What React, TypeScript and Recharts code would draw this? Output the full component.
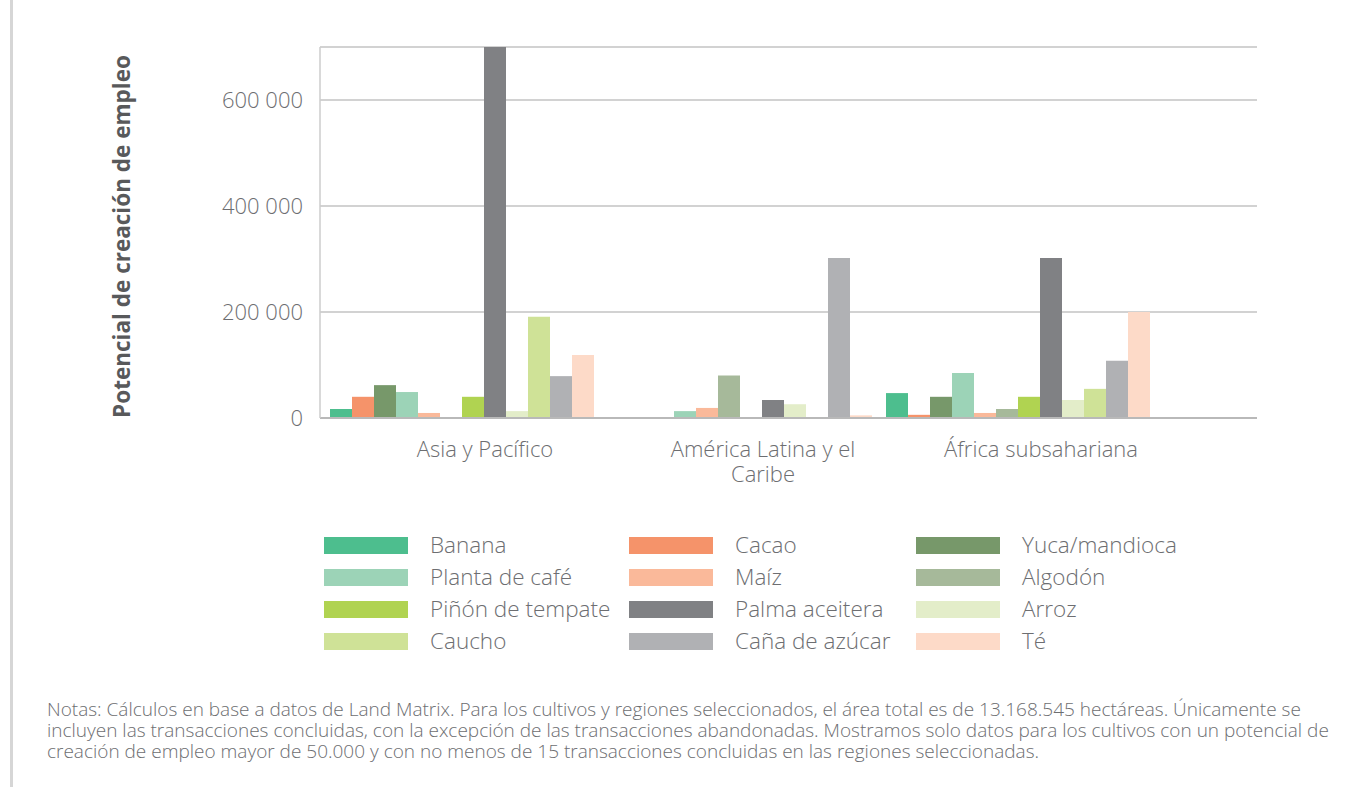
import React from 'react';
import { BarChart, Bar, XAxis, YAxis, CartesianGrid, Legend } from 'recharts';

// regions (x categories)
const regions = ['Asia y Pacífico', 'América Latina y el Caribe', 'África subsahariana'];

// crops, in legend order
const crops = [
  'Banana',
  'Cacao',
  'Yuca/mandioca',
  'Planta de café',
  'Maíz',
  'Algodón',
  'Piñón de tempate',
  'Palma aceitera',
  'Arroz',
  'Caucho',
  'Caña de azúcar',
  'Té',
];

const cropColors = [
  '#4dbe8e',
  '#f5936a',
  '#77986a',
  '#9cd3b7',
  '#fab99a',
  '#a6b99a',
  '#b0d351',
  '#808184',
  '#e3edc9',
  '#cfe297',
  '#b0b1b4',
  '#fddac8',
];

// values per crop: Asia, América Latina, África
const banana = [17000, 0, 47000];
const cacao = [40000, 0, 6000];
const yuca = [62000, 0, 40000];
const cafe = [49000, 13000, 85000];
const maiz = [9500, 19000, 9500];
const algodon = [0, 80000, 17000];
const pinon = [40000, 0, 40000];
const palma = [700000, 34000, 302000];
const arroz = [13000, 26000, 34000];
const caucho = [191000, 0, 55000];
const cana = [79000, 302000, 108000];
const te = [119000, 5000, 200000];

const seriesValues = [banana, cacao, yuca, cafe, maiz, algodon, pinon, palma, arroz, caucho, cana, te];

const yTicks = [0, 200000, 400000, 600000];

const noteLines = [
  'Notas: Cálculos en base a datos de Land Matrix. Para los cultivos y regiones seleccionados, el área total es de 13.168.545 hectáreas. Únicamente se',
  'incluyen las transacciones concluidas, con la excepción de las transacciones abandonadas. Mostramos solo datos para los cultivos con un potencial de',
  'creación de empleo mayor de 50.000 y con no menos de 15 transacciones concluidas en las regiones seleccionadas.',
];

const data = regions.map((region, r) => {
  const row: Record<string, any> = { region };
  crops.forEach((crop, c) => {
    row[crop] = seriesValues[c][r];
  });
  return row;
});

const FONT = "'Open Sans', 'Noto Sans', sans-serif";
const TEXT_GRAY = '#6d6e71';
const TICK_FONT_SIZE = 22;

const formatThousands = (v: number) => String(v).replace(/\B(?=(\d{3})+(?!\d))/g, ' ');

// greedy word wrap measured with a canvas
let measureCtx: CanvasRenderingContext2D | null = null;
function wrapWords(label: string, maxWidth: number): string[] {
  if (!measureCtx) {
    measureCtx = document.createElement('canvas').getContext('2d');
  }
  const ctx = measureCtx!;
  ctx.font = `300 ${TICK_FONT_SIZE}px ${FONT}`;
  const lines: string[] = [];
  let current = '';
  label.split(' ').forEach((word) => {
    const test = current ? `${current} ${word}` : word;
    if (current && ctx.measureText(test).width > maxWidth) {
      lines.push(current);
      current = word;
    } else {
      current = test;
    }
  });
  if (current) lines.push(current);
  return lines;
}

const RegionTick = (props: any) => {
  const { x, y, payload } = props;
  const lines = wrapWords(String(payload.value), 205);
  const cx = x + 22;
  return (
    <text
      x={cx}
      y={y}
      textAnchor="middle"
      fill={TEXT_GRAY}
      style={{ fontFamily: FONT, fontSize: TICK_FONT_SIZE, fontWeight: 300 }}
    >
      {lines.map((line, i) => (
        <tspan key={i} x={cx} dy={i === 0 ? '0.71em' : 25}>
          {line}
        </tspan>
      ))}
    </text>
  );
};

const YTitle = (props: any) => {
  const vb = props.viewBox || { x: 100, y: 47, height: 371 };
  const cx = vb.x + 21;
  const cy = vb.y + vb.height / 2 + 4;
  return (
    <text
      x={cx}
      y={cy}
      transform={`rotate(-90 ${cx} ${cy})`}
      textAnchor="middle"
      dominantBaseline="central"
      fill="#58595b"
      style={{ fontFamily: FONT, fontSize: 22.5, fontWeight: 700 }}
    >
      Potencial de creación de empleo
    </text>
  );
};

const LegendGrid = (props: any) => {
  const payload = [...(props.payload || [])].sort(
    (a: any, b: any) => crops.indexOf(a.value) - crops.indexOf(b.value),
  );
  return (
    <div
      style={{
        display: 'grid',
        gridTemplateColumns: '305px 287px auto',
        fontFamily: FONT,
        fontSize: 22.5,
        fontWeight: 300,
        color: TEXT_GRAY,
      }}
    >
      {payload.map((entry: any) => (
        <div key={entry.value} style={{ display: 'flex', alignItems: 'center', height: 32 }}>
          <span style={{ display: 'inline-block', width: 84, height: 17, background: entry.color, marginRight: 22 }} />
          <span style={{ whiteSpace: 'nowrap', lineHeight: '32px' }}>{entry.value}</span>
        </div>
      ))}
    </div>
  );
};

export default function App() {
  return (
    <div style={{ position: 'relative', width: 1362, height: 787, background: '#fff', overflow: 'hidden' }}>
      <style>{'body{margin:0}'}</style>
      <div style={{ position: 'absolute', left: 10, top: 0, width: 3, height: 787, background: '#d6d6d6' }} />
      <BarChart
        width={1362}
        height={700}
        data={data}
        margin={{ top: 47, right: 105, left: 100, bottom: 212 }}
        barCategoryGap={6}
        barGap={0}
      >
        <CartesianGrid vertical={false} stroke="#c3c3c3" strokeWidth={1.5} />
        <XAxis
          dataKey="region"
          height={70}
          padding={{ left: 4, right: 99 }}
          tickLine={false}
          tickSize={0}
          tickMargin={23}
          axisLine={{ stroke: '#b9b9b9', strokeWidth: 2 }}
          tick={<RegionTick />}
          interval={0}
        />
        <YAxis
          width={220}
          domain={[0, 700000]}
          ticks={yTicks}
          tickFormatter={formatThousands}
          tickLine={false}
          tickSize={0}
          tickMargin={17}
          axisLine={{ stroke: '#cdcdcd', strokeWidth: 1.5 }}
          tick={{ fill: TEXT_GRAY, fontSize: TICK_FONT_SIZE, fontFamily: FONT, fontWeight: 300 }}
          label={{ content: YTitle }}
        />
        <Legend
          layout="horizontal"
          verticalAlign="middle"
          align="center"
          itemSorter={null as any}
          content={<LegendGrid />}
          wrapperStyle={{ top: 529, left: 324, width: 'auto', height: 'auto' }}
        />
        {crops.map((crop, i) => (
          <Bar key={crop} dataKey={crop} name={crop} fill={cropColors[i]} isAnimationActive={false} />
        ))}
      </BarChart>
      <div
        style={{
          position: 'absolute',
          left: 47,
          top: 699,
          fontFamily: FONT,
          fontSize: 19,
          fontWeight: 300,
          lineHeight: '21px',
          color: TEXT_GRAY,
          whiteSpace: 'nowrap',
        }}
      >
        {noteLines.map((line) => (
          <div key={line}>{line}</div>
        ))}
      </div>
    </div>
  );
}
